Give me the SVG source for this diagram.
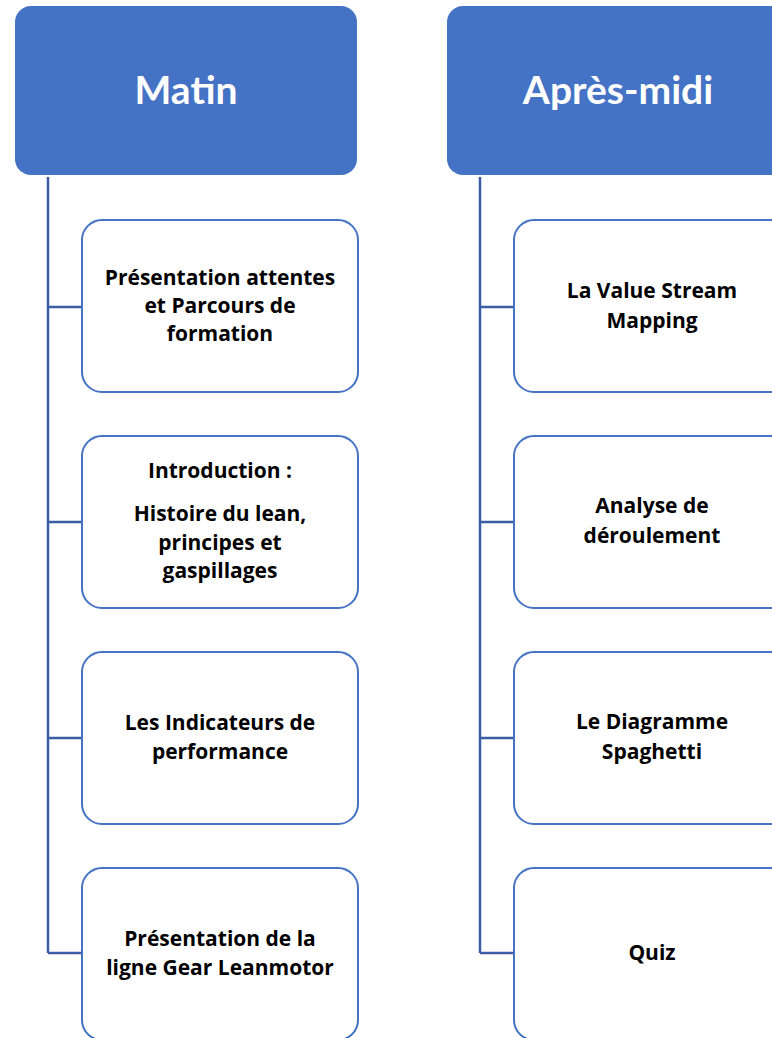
<svg xmlns="http://www.w3.org/2000/svg" width="772" height="1038" viewBox="0 0 772 1038">
<style>
.hdr{fill:#4472C4}
.box{fill:#fff;stroke:#4472C4;stroke-width:2}
.conn{fill:none;stroke:#3B5CA3;stroke-width:2.5}
.ht{font-family:Lato,"Open Sans",sans-serif;font-weight:bold;font-size:39px;fill:#fff;text-anchor:middle}
.t{font-family:"Open Sans",Lato,sans-serif;font-weight:bold;font-size:21px;fill:#000;text-anchor:middle}
</style>
<rect width="772" height="1038" fill="#fff"/>
<g id="connectors">
<path class="conn" d="M48,177 V953 M48,307 H82 M48,522 H82 M48,738 H82 M48,953 H82"/>
<path class="conn" d="M480,177 V953 M480,307 H514 M480,522 H514 M480,738 H514 M480,953 H514"/>
</g>
<g id="matin"><rect class="hdr" x="15" y="6" width="342" height="169" rx="16"/><text class="ht" x="186" y="104">Matin</text></g>
<g id="apresmidi"><rect class="hdr" x="447" y="6" width="342" height="169" rx="16"/><text class="ht" x="618" y="104">Après-midi</text></g>
<g id="m1"><rect class="box" x="82" y="220" width="276" height="172" rx="20"/><text class="t" x="220" y="285">Présentation attentes</text><text class="t" x="220" y="313">et Parcours de</text><text class="t" x="220" y="341">formation</text></g>
<g id="m2"><rect class="box" x="82" y="436" width="276" height="172" rx="20"/><text class="t" x="220" y="478">Introduction :</text><text class="t" x="220" y="521">Histoire du lean,</text><text class="t" x="220" y="550">principes et</text><text class="t" x="220" y="578">gaspillages</text></g>
<g id="m3"><rect class="box" x="82" y="652" width="276" height="172" rx="20"/><text class="t" x="220" y="730">Les Indicateurs de</text><text class="t" x="220" y="759">performance</text></g>
<g id="m4"><rect class="box" x="82" y="868" width="276" height="172" rx="20"/><text class="t" x="220" y="946">Présentation de la</text><text class="t" x="220" y="975">ligne Gear Leanmotor</text></g>
<g id="a1"><rect class="box" x="514" y="220" width="276" height="172" rx="20"/><text class="t" x="652" y="298">La Value Stream</text><text class="t" x="652" y="328">Mapping</text></g>
<g id="a2"><rect class="box" x="514" y="436" width="276" height="172" rx="20"/><text class="t" x="652" y="513">Analyse de</text><text class="t" x="652" y="543">déroulement</text></g>
<g id="a3"><rect class="box" x="514" y="652" width="276" height="172" rx="20"/><text class="t" x="652" y="729">Le Diagramme</text><text class="t" x="652" y="759">Spaghetti</text></g>
<g id="a4"><rect class="box" x="514" y="868" width="276" height="172" rx="20"/><text class="t" x="652" y="960">Quiz</text></g>
</svg>
